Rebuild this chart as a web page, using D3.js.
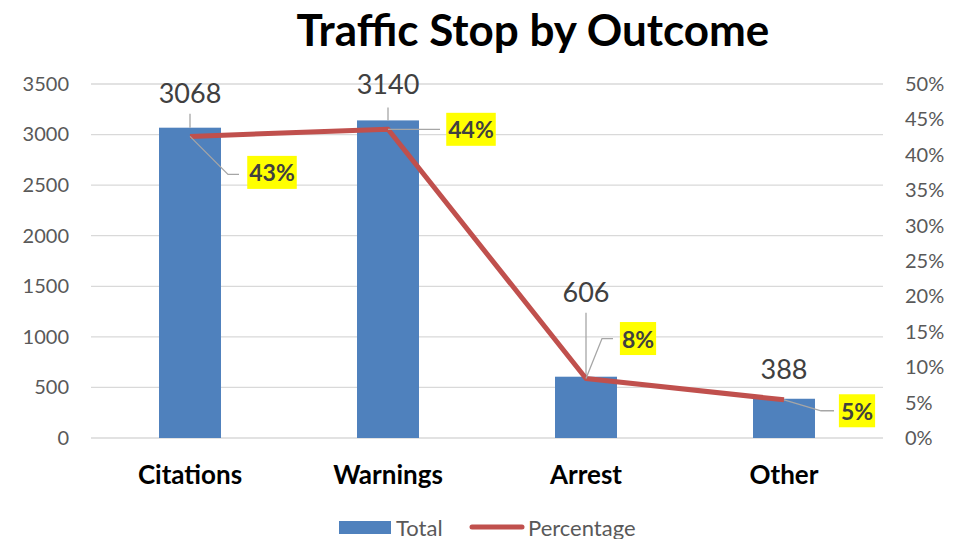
<!DOCTYPE html>
<html><head><meta charset="utf-8">
<script src="https://cdn.jsdelivr.net/npm/d3@7"></script>
<style>body{margin:0;background:#fff}svg{display:block}text{font-family:Lato,"Open Sans",sans-serif}</style>
</head><body>
<svg id="c" width="963" height="539"></svg>
<script>
const categories = ["Citations","Warnings","Arrest","Other"];
const totals = [3068,3140,606,388];
const percentages = [0.426,0.436,0.084,0.054];
const pctLabels = ["43%","44%","8%","5%"];
const leftTicks = [0,500,1000,1500,2000,2500,3000,3500];
const rightTicks = [0,0.05,0.1,0.15,0.2,0.25,0.3,0.35,0.4,0.45,0.5];
const title = "Traffic Stop by Outcome";
const seriesNames = ["Total","Percentage"];

// layout (styling offsets, not data)
const barLabelLayout = [{dy:-35,l1:0,l2:-14},{dy:-37,l1:0,l2:-13},{dy:-85,l1:0,l2:-64},{dy:-30,l1:null}];
const pctLabelLayout = [
  {pts:[[0,0],[38,38],[49,38]], cx:82, cy:36},
  {pts:[[0,0],[52,0]], cx:83, cy:0},
  {pts:[[0,0],[16,-40],[27,-40]], cx:52, cy:-40},
  {pts:[[0,0],[37,11],[50,11]], cx:73, cy:11}
];

const svg = d3.select("#c");
const L=91,R=883,T=84,B=438;
const x = d3.scaleBand().domain(categories).range([L,R]).paddingInner(0.687).paddingOuter(0.3435);
const y = d3.scaleLinear().domain([0,3500]).range([B,T]);
const y2 = d3.scaleLinear().domain([0,0.5]).range([B,T]);

// gridlines
svg.append("g").selectAll("line").data(leftTicks).join("line")
  .attr("x1",L).attr("x2",R).attr("y1",d=>y(d)).attr("y2",d=>y(d))
  .attr("stroke","#D9D9D9").attr("stroke-width",1.3);

// left axis
const la = svg.append("g").attr("transform",`translate(${L},0)`)
  .call(d3.axisLeft(y).tickValues(leftTicks).tickSize(0).tickPadding(22).tickFormat(d3.format("d")));
la.select(".domain").remove();
la.selectAll("text").attr("font-size",20).attr("fill","#595959").attr("font-family","Lato,sans-serif");

// right axis
const ra = svg.append("g").attr("transform",`translate(${R},0)`)
  .call(d3.axisRight(y2).tickValues(rightTicks).tickSize(0).tickPadding(22).tickFormat(d3.format(".0%")));
ra.select(".domain").remove();
ra.selectAll("text").attr("font-size",20).attr("fill","#595959").attr("font-family","Lato,sans-serif");

// category axis
const ca = svg.append("g").attr("transform",`translate(0,${B})`)
  .call(d3.axisBottom(x).tickSize(0).tickPadding(28));
ca.select(".domain").remove();
ca.selectAll("text").attr("font-size",26).attr("font-weight","bold").attr("fill","#000").attr("font-family","Lato,sans-serif");

// bars
svg.append("g").selectAll("rect").data(totals).join("rect")
  .attr("x",(d,i)=>x(categories[i])).attr("width",x.bandwidth())
  .attr("y",d=>y(d)).attr("height",d=>B-y(d))
  .attr("fill","#4F81BD");

// bar labels
totals.forEach((v,i)=>{
  const cx = x(categories[i])+x.bandwidth()/2, top=y(v), lay=barLabelLayout[i];
  if(lay.l1!==null){
    svg.append("line").attr("x1",cx).attr("x2",cx).attr("y1",top+lay.l1).attr("y2",top+lay.l2)
      .attr("stroke","#A6A6A6").attr("stroke-width",1.3);
  }
  svg.append("text").attr("x",cx).attr("y",top+lay.dy).attr("text-anchor","middle")
    .attr("dominant-baseline","central").attr("font-size",27).attr("fill","#404040").text(v);
});

// line
const line = d3.line().x((d,i)=>x(categories[i])+x.bandwidth()/2).y(d=>y2(d));
svg.append("path").datum(percentages).attr("d",line).attr("fill","none")
  .attr("stroke","#C0504D").attr("stroke-width",5).attr("stroke-linejoin","round");

// pct labels
percentages.forEach((p,i)=>{
  const ax = x(categories[i])+x.bandwidth()/2, ay=y2(p), lay=pctLabelLayout[i];
  svg.append("polyline").attr("points",lay.pts.map(q=>[ax+q[0],ay+q[1]].join(",")).join(" "))
    .attr("fill","none").attr("stroke","#A6A6A6").attr("stroke-width",1.3);
  const t = svg.append("text").attr("x",ax+lay.cx).attr("y",ay+lay.cy).attr("text-anchor","middle")
    .attr("dominant-baseline","central").attr("font-size",23).attr("font-weight","bold").attr("fill","#404040").text(pctLabels[i]);
  const bb = t.node().getBBox();
  svg.insert("rect", () => t.node()).attr("x",bb.x-2).attr("y",ay+lay.cy-16.5).attr("width",bb.width+4).attr("height",33).attr("fill","#FFFF00");
});

// title
svg.append("text").attr("x",533).attr("y",29).attr("text-anchor","middle").attr("dominant-baseline","central")
  .attr("font-size",44).attr("font-weight","bold").attr("fill","#000").text(title);

// legend
const lg = svg.append("g");
lg.append("rect").attr("x",339).attr("y",521).attr("width",52).attr("height",13).attr("fill","#4F81BD");
lg.append("text").attr("x",396).attr("y",527).attr("dominant-baseline","central").attr("font-size",22).attr("fill","#595959").text(seriesNames[0]);
lg.append("line").attr("x1",472).attr("x2",522).attr("y1",527).attr("y2",527).attr("stroke","#C0504D").attr("stroke-width",5).attr("stroke-linecap","round");
lg.append("text").attr("x",528).attr("y",527).attr("dominant-baseline","central").attr("font-size",22).attr("fill","#595959").text(seriesNames[1]);
</script>
</body></html>
